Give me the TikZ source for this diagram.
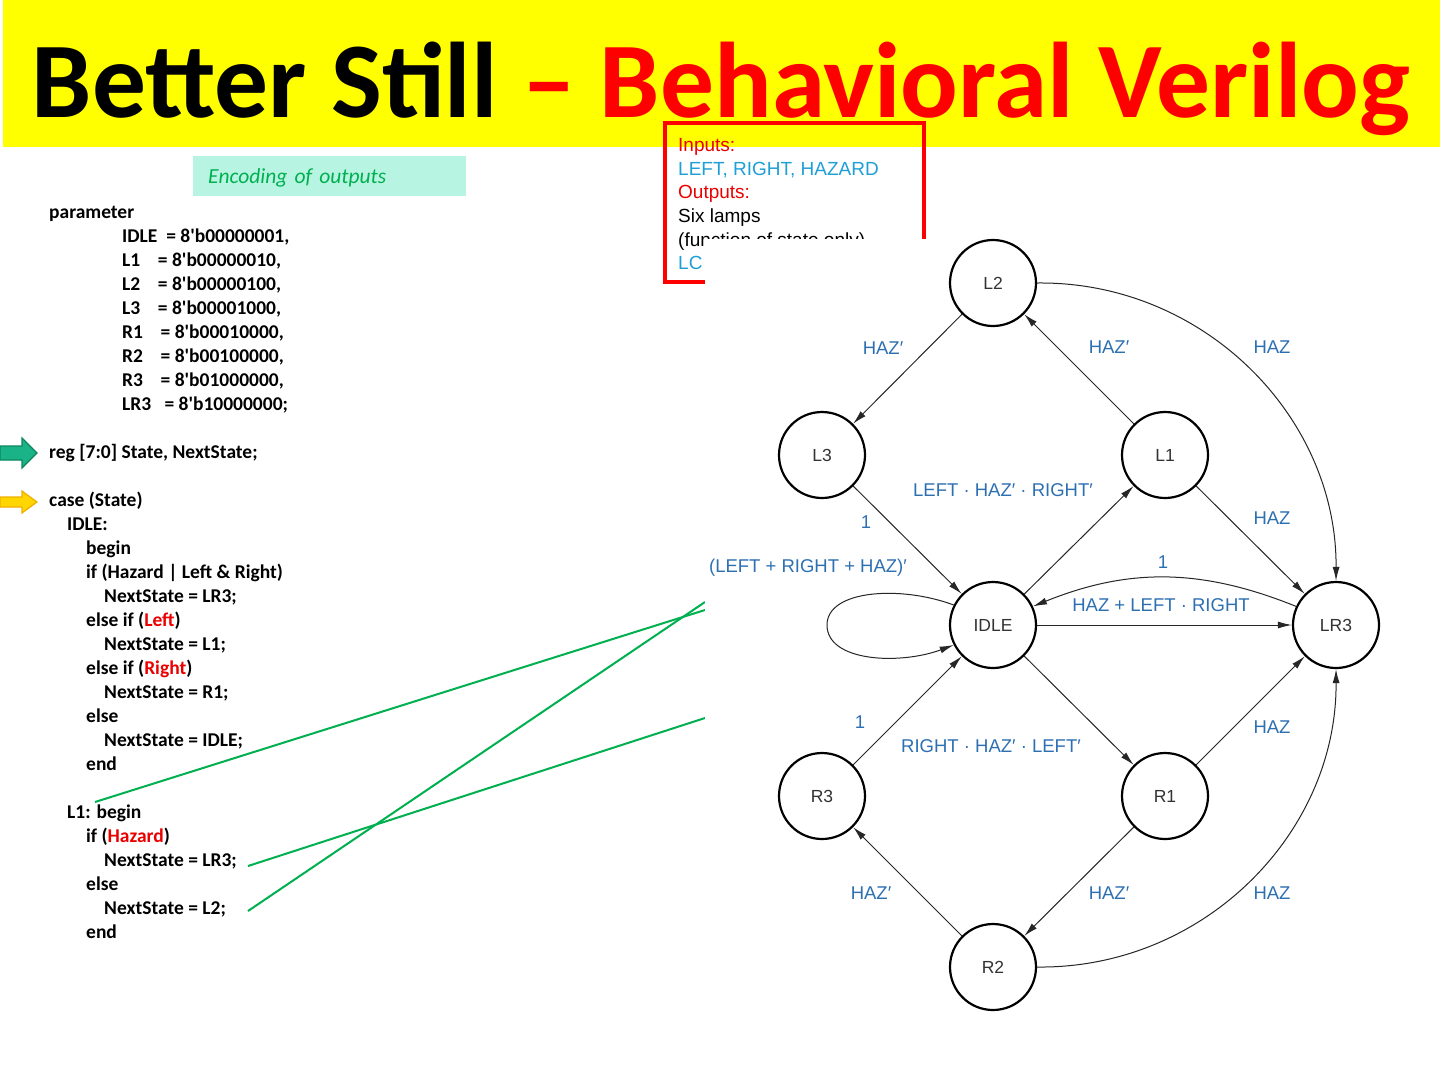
\documentclass[tikz,border=0pt]{standalone}
\usepackage{fontspec}
\setmainfont{Carlito}
\newfontfamily\arialfont{Liberation Sans}
\usetikzlibrary{arrows.meta}
\usetikzlibrary{positioning}

\definecolor{bandyellow}{RGB}{255,255,0}
\definecolor{titlered}{RGB}{255,0,0}
\definecolor{codered}{RGB}{235,0,0}
\definecolor{notegreen}{RGB}{0,176,80}
\definecolor{notefill}{RGB}{184,244,226}
\definecolor{inblue}{RGB}{30,160,215}
\definecolor{edgeblue}{RGB}{45,112,178}
\definecolor{linkgreen}{RGB}{0,176,80}
\definecolor{ptrteal}{RGB}{26,178,135}
\definecolor{ptrtealdark}{RGB}{10,135,95}
\definecolor{ptryellow}{RGB}{255,214,0}
\definecolor{ptrorange}{RGB}{240,175,0}

\newcommand{\apost}{\textquotesingle}

\tikzset{
	state/.style={circle, draw=black, line width=2.2pt, minimum size=86pt, inner sep=0pt,
		font=\arialfont\fontsize{17.5}{17.5}\selectfont, text=black!80},
	trans/.style={draw=black!85, line width=1pt, -{Latex[length=14pt,width=7pt]}},
	cond/.style={inner sep=0pt, text=edgeblue, font=\arialfont\fontsize{18.5}{18.5}\selectfont},
	link/.style={draw=linkgreen, line width=2pt},
	notebox/.style={fill=notefill, anchor=north west, minimum width=273pt, minimum height=40pt,
		text width=243pt, inner xsep=15pt, inner ysep=0pt, align=left, text=notegreen,
		text height=16pt, text depth=2pt, font=\itshape\fontsize{21.5}{21.5}\selectfont},
	codeblock/.style={anchor=base west, inner sep=0pt, align=left,
		font=\bfseries\fontsize{19.5}{24}\selectfont}
}

\begin{document}
\begin{tikzpicture}[x=1pt,y=-1pt]
		\useasboundingbox (0,0) rectangle (1440,1080);
		\fill[white] (0,0) rectangle (1440,1080);

		% Title band
		\fill[bandyellow] (3,0) rectangle (1440,147);
		\node[anchor=base, inner sep=0pt, font=\bfseries\fontsize{107.5}{107.5}\selectfont] (title) at (721,117)
			{Better Still \textcolor{titlered}{– Behavioral Verilog}};

		% Encoding note
		\node[notebox] (enc) at (193,156) {Encoding of outputs};

		% Verilog code (anchored on the baseline of its last line)
		\node[codeblock] (code) at (49,938.3) {parameter\\
			\hspace*{73pt}IDLE\ \ = 8\apost b00000001,\\
			\hspace*{73pt}L1\ \ \ \ = 8\apost b00000010,\\
			\hspace*{73pt}L2\ \ \ \ = 8\apost b00000100,\\
			\hspace*{73pt}L3\ \ \ \ = 8\apost b00001000,\\
			\hspace*{73pt}R1\ \ \ \ = 8\apost b00010000,\\
			\hspace*{73pt}R2\ \ \ \ = 8\apost b00100000,\\
			\hspace*{73pt}R3\ \ \ \ = 8\apost b01000000,\\
			\hspace*{73pt}LR3\ \ \ = 8\apost b10000000;\\[24pt]
			reg [7:0] State, NextState;\\[24pt]
			case (State)\\
			\hspace*{18pt}IDLE:\\
			\hspace*{37pt}begin\\
			\hspace*{37pt}if (Hazard | Left \& Right)\\
			\hspace*{55pt}NextState = LR3;\\
			\hspace*{37pt}else if (\textcolor{codered}{Left})\\
			\hspace*{55pt}NextState = L1;\\
			\hspace*{37pt}else if (\textcolor{codered}{Right})\\
			\hspace*{55pt}NextState = R1;\\
			\hspace*{37pt}else\\
			\hspace*{55pt}NextState = IDLE;\\
			\hspace*{37pt}end\\[24pt]
			\hspace*{18pt}L1: begin\\
			\hspace*{37pt}if (\textcolor{codered}{Hazard})\\
			\hspace*{55pt}NextState = LR3;\\
			\hspace*{37pt}else\\
			\hspace*{55pt}NextState = L2;\\
			\hspace*{37pt}end};

		% Pointer arrows
		\filldraw[fill=ptrteal, draw=ptrtealdark, line width=1.2pt]
			(0,446) -- (22,446) -- (22,438) -- (37,453) -- (22,468) -- (22,460) -- (0,460) -- cycle;
		\filldraw[fill=ptryellow, draw=ptrorange, line width=1.2pt]
			(0,497) -- (22,497) -- (22,491) -- (37,502) -- (22,513) -- (22,507) -- (0,507) -- cycle;

		% Inputs / outputs note (anchored on the baseline of its last line)
		\draw[titlered, line width=3.6pt] (665,123) rectangle (924,282);
		\node[anchor=base west, inner sep=0pt, align=left, font=\arialfont\fontsize{19}{23.6}\selectfont] (io) at (678,269.7)
			{\textcolor{codered}{Inputs:}\\
			\textcolor{inblue}{LEFT, RIGHT, HAZARD}\\
			\textcolor{codered}{Outputs:}\\
			Six lamps\\
			(function of state only)\\
			\textcolor{inblue}{LC}};

		% Green pointers
		\coordinate (pL1) at (95,802);
		\coordinate (pLR3) at (248,866);
		\coordinate (pL2) at (248,911);
		\coordinate (eL1) at (705,610);
		\coordinate (eLR3) at (705,718);
		\coordinate (eL2) at (705,602);
		\draw[link] (pL1) -- (eL1);
		\draw[link] (pLR3) -- (eLR3);
		\draw[link] (pL2) -- (eL2);

		% State diagram (on its own white sheet)
		\fill[white] (705,239) rectangle (1440,1080);

		\node[state] (L2) at (993,283) {L2};
		\node[state] (L3) at (822,455) {L3};
		\node[state] (L1) at (1165,455) {L1};
		\node[state] (IDLE) at (993,625) {IDLE};
		\node[state] (LR3) at (1336,625) {LR3};
		\node[state] (R3) at (822,796) {R3};
		\node[state] (R1) at (1165,796) {R1};
		\node[state] (R2) at (993,967) {R2};

		\draw[trans] (L2) -- (L3);
		\draw[trans] (L1) -- (L2);
		\draw[trans] (L2.east) .. controls (1203,281) and (1337,416) .. (LR3.north);
		\draw[trans] (L1) -- (LR3);
		\draw[trans] (L3) -- (IDLE);
		\draw[trans] (IDLE) -- (L1);
		\draw[trans] (LR3.155) to[bend right=22] (IDLE.25);
		\draw[trans] (IDLE) -- (LR3);
		\draw[trans] (IDLE.153) .. controls (900,585) and (827,590) .. (827,625)
			.. controls (827,662) and (900,665) .. (IDLE.207);
		\draw[trans] (IDLE) -- (R1);
		\draw[trans] (R3) -- (IDLE);
		\draw[trans] (R1) -- (LR3);
		\draw[trans] (R1) -- (R2);
		\draw[trans] (R2) -- (R3);
		\draw[trans] (R2.east) .. controls (1203,969) and (1337,834) .. (LR3.south);

		\node[cond] (c1) at (883,348) {HAZ′};
		\node[cond] (c2) at (1109,347) {HAZ′};
		\node[cond] (c3) at (1272,347) {HAZ};
		\node[cond] (c4) at (1003,490) {LEFT · HAZ′ · RIGHT′};
		\node[cond] (c5) at (866,522) {1};
		\node[cond] (c6) at (1272,518) {HAZ};
		\node[cond] (c7) at (1163,562) {1};
		\node[cond] (c8) at (808,568) {(LEFT + RIGHT + HAZ)′};
		\node[cond] (c9) at (1161,605) {HAZ + LEFT · RIGHT};
		\node[cond] (c10) at (860,722) {1};
		\node[cond] (c11) at (991,746) {RIGHT · HAZ′ · LEFT′};
		\node[cond] (c12) at (1272,727) {HAZ};
		\node[cond] (c13) at (871,893) {HAZ′};
		\node[cond] (c14) at (1109,893) {HAZ′};
		\node[cond] (c15) at (1272,893) {HAZ};
	\end{tikzpicture}
\end{document}
